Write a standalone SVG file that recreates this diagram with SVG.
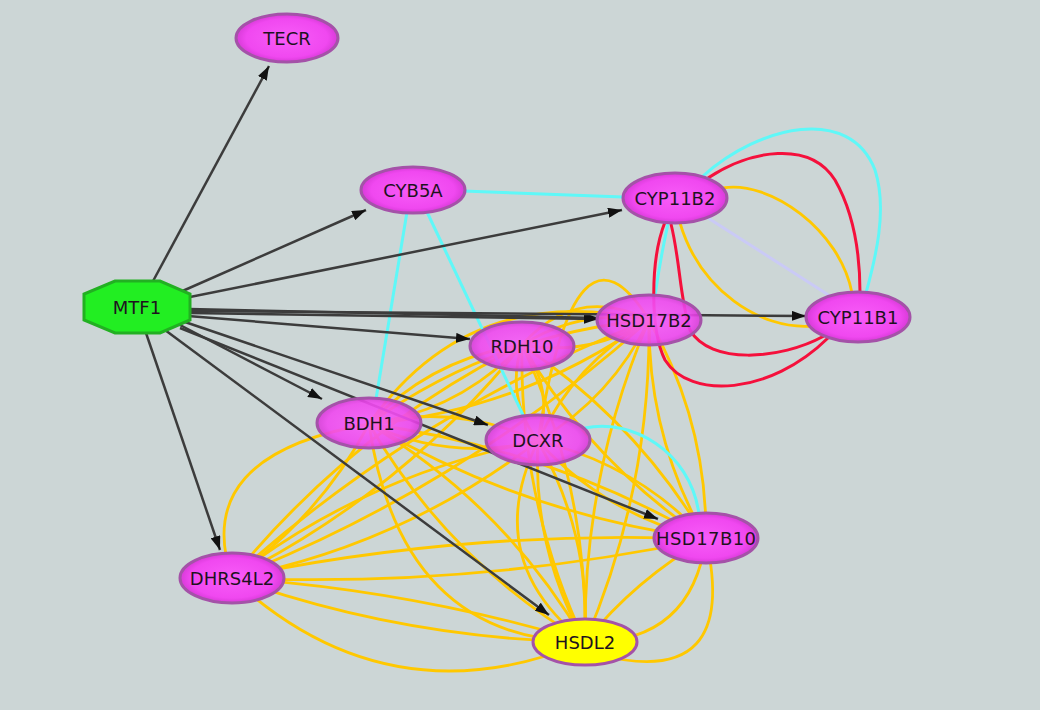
<svg xmlns="http://www.w3.org/2000/svg" width="1040" height="710" viewBox="0 0 1040 710">
<defs>
<style>
.y{fill:none;stroke:#ffc800;stroke-width:2.8}
.c{fill:none;stroke:#5ff8f8;stroke-width:3}
.r{fill:none;stroke:#f5103c;stroke-width:3}
.a{fill:none;stroke:#3c3c3c;stroke-width:2.5;marker-end:url(#arr)}
.n{fill:url(#mag);stroke:#a452a8;stroke-width:3}
.t{font-family:"DejaVu Sans",sans-serif;font-size:18px;fill:#1e121e;text-anchor:middle;dominant-baseline:central}
</style>
<radialGradient id="mag" cx="50%" cy="50%" r="50%">
<stop offset="0" stop-color="#f85cf8"/>
<stop offset="0.8" stop-color="#f048f0"/>
<stop offset="1" stop-color="#d83ad8"/>
</radialGradient>
<marker id="arr" viewBox="0 0 14 10" refX="14" refY="5" markerWidth="14" markerHeight="10" markerUnits="userSpaceOnUse" orient="auto">
<path d="M0,0 L14,5 L0,10 z" fill="#111"/>
</marker>
</defs>
<rect width="1040" height="710" fill="#ccd6d6"/>
<g id="connectors">
<path class="y" d="M369,424 Q450,462 538,441"/>
<path class="y" d="M369,424 Q456,403 538,441"/>
<path class="y" d="M369,424 Q459,411 522,345"/>
<path class="y" d="M369,424 Q432,358 522,345"/>
<path class="y" d="M369,424 Q523,410 649,320"/>
<path class="y" d="M369,424 Q495,334 649,320"/>
<path class="y" d="M369,424 Q470,280 649,320"/>
<path class="y" d="M369,424 Q526,515 706,539"/>
<path class="y" d="M369,424 Q549,448 706,539"/>
<path class="y" d="M369,424 Q190,455 232,578"/>
<path class="y" d="M369,424 Q319,518 232,578"/>
<path class="y" d="M369,424 Q449,561 585,642"/>
<path class="y" d="M369,424 Q505,505 585,642"/>
<path class="y" d="M369,424 Q400,640 585,642"/>
<path class="y" d="M538,441 Q555,389 522,345"/>
<path class="y" d="M538,441 Q505,397 522,345"/>
<path class="y" d="M538,441 Q612,397 649,320"/>
<path class="y" d="M538,441 Q575,363 649,320"/>
<path class="y" d="M538,441 Q575,200 649,320"/>
<path class="y" d="M538,441 Q607,516 706,539"/>
<path class="y" d="M538,441 Q637,464 706,539"/>
<path class="y" d="M538,441 Q401,546 232,578"/>
<path class="y" d="M538,441 Q369,473 232,578"/>
<path class="y" d="M538,441 Q532,548 585,642"/>
<path class="y" d="M538,441 Q591,535 585,642"/>
<path class="y" d="M538,441 Q480,560 585,642"/>
<path class="y" d="M522,345 Q590,357 649,320"/>
<path class="y" d="M522,345 Q581,308 649,320"/>
<path class="y" d="M522,345 Q576,284 649,320"/>
<path class="y" d="M522,345 Q592,463 706,539"/>
<path class="y" d="M522,345 Q636,421 706,539"/>
<path class="y" d="M522,345 Q402,493 232,578"/>
<path class="y" d="M522,345 Q352,430 232,578"/>
<path class="y" d="M522,345 Q519,501 585,642"/>
<path class="y" d="M522,345 Q588,486 585,642"/>
<path class="y" d="M649,320 Q648,437 706,539"/>
<path class="y" d="M649,320 Q707,422 706,539"/>
<path class="y" d="M649,320 Q464,487 232,578"/>
<path class="y" d="M649,320 Q417,411 232,578"/>
<path class="y" d="M649,320 Q651,488 585,642"/>
<path class="y" d="M649,320 Q583,474 585,642"/>
<path class="y" d="M706,539 Q471,588 232,578"/>
<path class="y" d="M706,539 Q467,529 232,578"/>
<path class="y" d="M706,539 Q691,644 585,642"/>
<path class="y" d="M706,539 Q636,579 585,642"/>
<path class="y" d="M706,539 Q740,690 600,655"/>
<path class="y" d="M232,578 Q403,639 585,642"/>
<path class="y" d="M232,578 Q388,723 585,642"/>
<path class="y" d="M232,578 Q412,590 585,642"/>
<path class="y" d="M723,188 C770,180 840,230 852,293"/>
<path class="y" d="M680,223 C700,290 760,330 812,326"/>
<path d="M708,218 L830,296" fill="none" stroke="#cacaf6" stroke-width="3"/>
<path class="c" d="M463,191 Q540,194 623,197"/>
<path class="c" d="M407,212 L376,399"/>
<path class="c" d="M427,212 L524,417"/>
<path class="c" d="M585,428 C630,418 690,450 699,514"/>
<path class="c" d="M703,176 C760,125 850,105 875,170 C888,210 875,260 866,293"/>
<path class="c" d="M668,224 Q660,260 655,296"/>
<path class="r" d="M708,178 C750,150 810,140 835,180 C855,215 860,260 860,293"/>
<path class="r" d="M665,222 C650,260 650,330 665,360 C690,400 770,395 828,338"/>
<path class="r" d="M671,224 C680,260 680,300 690,330 C710,365 780,360 824,336"/>
<path class="a" d="M152,283 L269,66"/>
<path class="a" d="M178,293 L366,210"/>
<path class="a" d="M185,298 L622,210"/>
<path class="a" d="M189,309 L598,318"/>
<path class="a" d="M189,313 L598,319"/>
<path class="a" d="M189,311 L806,316"/>
<path class="a" d="M188,316 L470,339"/>
<path class="a" d="M180,325 L322,399"/>
<path class="a" d="M185,322 L488,425"/>
<path class="a" d="M180,328 L658,519"/>
<path class="a" d="M165,330 L549,615"/>
<path class="a" d="M146,333 L220,550"/>
</g>
<g id="TECR"><ellipse class="n" cx="287" cy="38" rx="51" ry="24"/><text class="t" x="287" y="38">TECR</text></g>
<g id="CYB5A"><ellipse class="n" cx="413" cy="190" rx="52" ry="23"/><text class="t" x="413" y="190">CYB5A</text></g>
<g id="CYP11B2"><ellipse class="n" cx="675" cy="198" rx="52" ry="25"/><text class="t" x="675" y="198">CYP11B2</text></g>
<g id="MTF1"><polygon points="115,281 160,281 190,294 190,320 160,333 115,333 84,320 84,294" fill="#22ee22" stroke="#22b022" stroke-width="3"/><text class="t" x="137" y="307">MTF1</text></g>
<g id="HSD17B2"><ellipse class="n" cx="649" cy="320" rx="52" ry="25" fill-opacity="0.9"/><text class="t" x="649" y="320">HSD17B2</text></g>
<g id="CYP11B1"><ellipse class="n" cx="858" cy="317" rx="52" ry="25"/><text class="t" x="858" y="317">CYP11B1</text></g>
<g id="RDH10"><ellipse class="n" cx="522" cy="346" rx="52" ry="24" fill-opacity="0.9"/><text class="t" x="522" y="346">RDH10</text></g>
<g id="BDH1"><ellipse class="n" cx="369" cy="423" rx="52" ry="25" fill-opacity="0.9"/><text class="t" x="369" y="423">BDH1</text></g>
<g id="DCXR"><ellipse class="n" cx="538" cy="440" rx="52" ry="25" fill-opacity="0.9"/><text class="t" x="538" y="440">DCXR</text></g>
<g id="HSD17B10"><ellipse class="n" cx="706" cy="538" rx="52" ry="25"/><text class="t" x="706" y="538" textLength="100">HSD17B10</text></g>
<g id="DHRS4L2"><ellipse class="n" cx="232" cy="578" rx="52" ry="25"/><text class="t" x="232" y="578">DHRS4L2</text></g>
<g id="HSDL2"><ellipse cx="585" cy="642" rx="52" ry="23" fill="#ffff00" stroke="#a452a8" stroke-width="3"/><text class="t" x="585" y="642">HSDL2</text></g>
</svg>
